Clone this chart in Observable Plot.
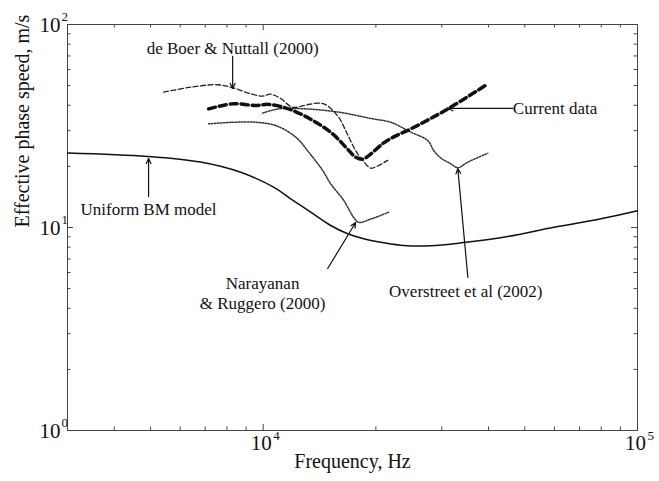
<!DOCTYPE html>
<html>
<head>
<meta charset="utf-8">
<script src="https://cdn.jsdelivr.net/npm/d3@7"></script>
<script src="https://cdn.jsdelivr.net/npm/@observablehq/plot@0.6"></script>
<style>
  html, body { margin: 0; padding: 0; background: #fff; }
  #chart { width: 659px; height: 481px; }
  svg, svg text { font-family: "Liberation Serif", "DejaVu Serif", serif !important; }
</style>
</head>
<body>
<div id="chart"></div>
<script>
// ---- data (frequency Hz, phase speed m/s) ----
const uniformFreq = [3000, 4908, 6805, 8704, 10663, 11840, 13390, 15150, 16820, 18560, 20990, 23740, 28030, 34350, 45030, 59790, 79840, 100000];
const uniformSpeed = [23.3, 22.4, 21.0, 18.7, 15.8, 13.85, 11.9, 10.23, 9.31, 8.80, 8.41, 8.15, 8.12, 8.43, 9.03, 10.03, 11.04, 12.1];

const currentFreq = [7147, 8337, 9548, 10339, 11697, 13557, 15335, 16611, 17665, 18450, 19140, 20862, 22190, 24800, 31140, 39810];
const currentSpeed = [38.4, 40.7, 39.9, 40.4, 38.4, 33.7, 28.9, 24.9, 22.2, 21.7, 22.6, 25.9, 27.8, 30.6, 38.4, 51.0];

const deBoerFreq = [5418, 6397, 7553, 8286, 9258, 9963, 10467, 11134, 11991, 12987, 13980, 14686, 15913, 16611, 17665, 18450, 19380, 20110, 21510];
const deBoerSpeed = [46.4, 49.1, 50.5, 48.8, 45.6, 44.4, 45.4, 43.2, 39.1, 40.1, 41.0, 40.3, 34.9, 30.0, 23.9, 21.4, 19.6, 20.0, 21.4];

const overFreq = [9963, 10998, 12987, 15913, 19617, 21910, 24800, 27520, 28560, 29820, 31710, 33110, 35220, 39810];
const overSpeed = [36.6, 38.4, 38.4, 37.0, 34.3, 33.0, 29.5, 26.8, 23.9, 22.0, 20.6, 19.7, 21.0, 23.2];

const narFreq = [7147, 8337, 9548, 10793, 12211, 13230, 14418, 15150, 16410, 17450, 18000, 19380, 21650];
const narSpeed = [32.4, 33.0, 33.0, 31.8, 27.9, 23.5, 19.1, 16.4, 13.6, 11.2, 10.6, 11.0, 11.9];

// annotation labels (anchor in data units)
const centerLabelText = ["de Boer & Nuttall (2000)", "Uniform BM model", "Narayanan\n& Ruggero (2000)", "Overstreet et al (2002)"];
const centerLabelFreq = [8286, 4940, 9963, 34770];
const centerLabelSpeed = [77.0, 12.4, 4.78, 4.89];
const startLabelText = ["Current data"];
const startLabelFreq = [46450];
const startLabelSpeed = [38.6];

// annotation arrows (from -> to, data units)
const arrowFreq1 = [8286, 46450, 4940, 14870, 35220];
const arrowSpeed1 = [69.6, 38.6, 14.2, 6.28, 5.67];
const arrowFreq2 = [8286, 31140, 4940, 17660, 33110];
const arrowSpeed2 = [48.4, 38.6, 21.9, 10.58, 19.5];

// ticks
const xMajor = [1e4, 1e5];
const xMajorExp = ["4", "5"];
const xMinor = [4000, 5000, 6000, 7000, 8000, 9000, 20000, 30000, 40000, 50000, 60000, 70000, 80000, 90000];
const yMajor = [1, 10, 100];
const yMajorExp = ["0", "1", "2"];
const yMinor = [2, 3, 4, 5, 6, 7, 8, 9, 20, 30, 40, 50, 60, 70, 80, 90];

const zip = (xs, ys) => xs.map((x, i) => ({x, y: ys[i]}));
const uniform = zip(uniformFreq, uniformSpeed);
const current = zip(currentFreq, currentSpeed);
const deBoer = zip(deBoerFreq, deBoerSpeed);
const over = zip(overFreq, overSpeed);
const nar = zip(narFreq, narSpeed);
const centerLabels = centerLabelText.map((t, i) => ({t, x: centerLabelFreq[i], y: centerLabelSpeed[i]}));
const startLabels = startLabelText.map((t, i) => ({t, x: startLabelFreq[i], y: startLabelSpeed[i]}));
const arrows = arrowFreq1.map((x1, i) => ({x1, y1: arrowSpeed1[i], x2: arrowFreq2[i], y2: arrowSpeed2[i]}));
const xTickLab = xMajor.map((v, i) => ({v, e: xMajorExp[i]}));
const yTickLab = yMajor.map((v, i) => ({v, e: yMajorExp[i]}));

const FONT = "Liberation Serif";
const W = 659, H = 481, ML = 67, MR = 22, MT = 24, MB = 51;
const PW = W - ML - MR, PH = H - MT - MB;
const MAJ = 6, MIN = 3.5;
const tickStyle = {stroke: "#444", strokeWidth: 1};

const chart = Plot.plot({
  width: W,
  height: H,
  marginLeft: ML,
  marginRight: MR,
  marginTop: MT,
  marginBottom: MB,
  style: `font-family: ${FONT}, serif; background: #fff;`,
  x: {type: "log", domain: [3000, 1e5], axis: null},
  y: {type: "log", domain: [1, 100], axis: null},
  marks: [
    // inward ticks on all four sides
    Plot.ruleX(xMajor, {x: d => d, insetTop: PH - MAJ, ...tickStyle}),
    Plot.ruleX(xMajor, {x: d => d, insetBottom: PH - MAJ, ...tickStyle}),
    Plot.ruleX(xMinor, {x: d => d, insetTop: PH - MIN, ...tickStyle}),
    Plot.ruleX(xMinor, {x: d => d, insetBottom: PH - MIN, ...tickStyle}),
    Plot.ruleY(yMajor, {y: d => d, insetRight: PW - MAJ, ...tickStyle}),
    Plot.ruleY(yMajor, {y: d => d, insetLeft: PW - MAJ, ...tickStyle}),
    Plot.ruleY(yMinor, {y: d => d, insetRight: PW - MIN, ...tickStyle}),
    Plot.ruleY(yMinor, {y: d => d, insetLeft: PW - MIN, ...tickStyle}),
    Plot.frame({stroke: "#444", strokeWidth: 1}),

    // tick labels 10^n
    Plot.text(xTickLab, {x: "v", text: () => "10", frameAnchor: "bottom", dy: 19, dx: -2, fontSize: 21, fontFamily: FONT, textAnchor: "middle", fill: "#111"}),
    Plot.text(xTickLab, {x: "v", text: "e", frameAnchor: "bottom", dy: 9, dx: 10, fontSize: 13, fontFamily: FONT, textAnchor: "start", fill: "#111"}),
    Plot.text(yTickLab, {y: "v", text: () => "10", frameAnchor: "left", dx: -7, dy: 1, fontSize: 21, fontFamily: FONT, textAnchor: "end", fill: "#111"}),
    Plot.text(yTickLab, {y: "v", text: "e", frameAnchor: "left", dx: -6, dy: -8, fontSize: 13, fontFamily: FONT, textAnchor: "start", fill: "#111"}),

    // axis titles
    Plot.text(["Frequency, Hz"], {text: d => d, frameAnchor: "bottom", dy: 37, fontSize: 20, fontFamily: FONT, fill: "#111"}),
    Plot.text(["Effective phase speed, m/s"], {text: d => d, frameAnchor: "left", dx: -45, rotate: -90, fontSize: 20, fontFamily: FONT, fill: "#111"}),

    // curves
    Plot.line(uniform, {x: "x", y: "y", curve: "catmull-rom", stroke: "#111", strokeWidth: 1.5}),
    Plot.line(nar, {x: "x", y: "y", curve: "catmull-rom", stroke: "#333", strokeWidth: 1.5, strokeDasharray: "1.5,1.5"}),
    Plot.line(over, {x: "x", y: "y", curve: "catmull-rom", stroke: "#333", strokeWidth: 1.5, strokeDasharray: "1.5,1.5"}),
    Plot.line(deBoer, {x: "x", y: "y", curve: "catmull-rom", stroke: "#222", strokeWidth: 1.3, strokeDasharray: "5,2.5"}),
    Plot.line(current, {x: "x", y: "y", curve: "catmull-rom", stroke: "#111", strokeWidth: 3.5, strokeDasharray: "7,4"}),

    // annotations
    Plot.arrow(arrows, {x1: "x1", y1: "y1", x2: "x2", y2: "y2", stroke: "#111", strokeWidth: 1.2, headLength: 7, headAngle: 50}),
    Plot.text(centerLabels, {x: "x", y: "y", text: "t", textAnchor: "middle", fontSize: 17, fontFamily: FONT, lineHeight: 1.18, fill: "#111"}),
    Plot.text(startLabels, {x: "x", y: "y", text: "t", textAnchor: "start", fontSize: 17, fontFamily: FONT, fill: "#111"})
  ]
});
document.getElementById("chart").appendChild(chart);
</script>
</body>
</html>
